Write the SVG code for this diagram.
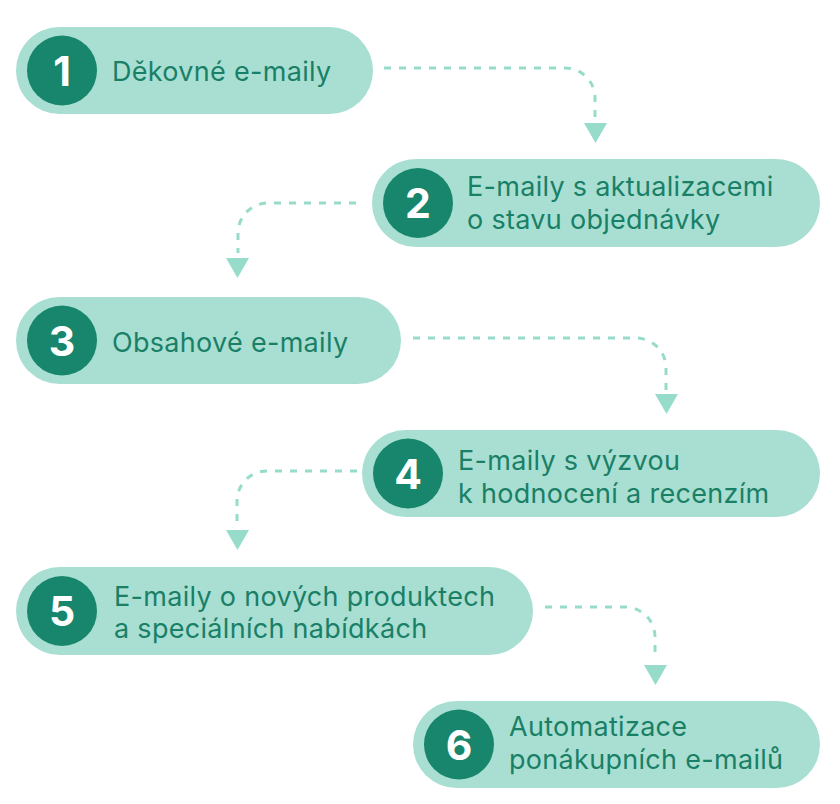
<svg xmlns="http://www.w3.org/2000/svg" width="840" height="804" viewBox="0 0 840 804">
<defs>
<style>
.pill{fill:#a8dfd2}
.num{fill:#17866c}
.digit{fill:#ffffff;font-family:Inter,"Liberation Sans",sans-serif;font-weight:700;font-size:41px;text-anchor:middle}
.lbl{fill:#1a7f67;font-family:Inter,"Liberation Sans",sans-serif;font-size:27px;letter-spacing:0.3px}
.conn{fill:none;stroke:#97dccb;stroke-width:3;stroke-dasharray:7 8}
.head{fill:#97dccb}
</style>
</defs>
<rect width="840" height="804" fill="#ffffff"/>
<g id="connectors">
<path class="conn" d="M384 68 H565 A30 30 0 0 1 595 98 V120"/>
<polygon class="head" points="584,123 607,123 595.5,143"/>
<path class="conn" d="M356 203 H268 A30 30 0 0 0 238 233 V253"/>
<polygon class="head" points="226,258 249,258 237.5,278"/>
<path class="conn" d="M413 338 H636 A30 30 0 0 1 666 368 V390"/>
<polygon class="head" points="655,394 678,394 666.5,414"/>
<path class="conn" d="M357 471 H267 A30 30 0 0 0 237 501 V525"/>
<polygon class="head" points="226,530 249,530 237.5,550"/>
<path class="conn" d="M545 607 H625 A30 30 0 0 1 655 637 V660"/>
<polygon class="head" points="644,665 667,665 655.5,685"/>
</g>
<g id="node1">
<rect class="pill" x="16" y="27" width="357" height="87" rx="43.5"/>
<circle class="num" cx="62" cy="70.5" r="35"/>
<text class="digit" x="62" y="85.5">1</text>
<text class="lbl" x="112" y="81">Děkovné e-maily</text>
</g>
<g id="node2">
<rect class="pill" x="372" y="159" width="448" height="88" rx="44"/>
<circle class="num" cx="418" cy="203" r="35"/>
<text class="digit" x="418" y="218">2</text>
<text class="lbl" x="467" y="196">E-maily s aktualizacemi</text>
<text class="lbl" x="467" y="229">o stavu objednávky</text>
</g>
<g id="node3">
<rect class="pill" x="16" y="297" width="385" height="87" rx="43.5"/>
<circle class="num" cx="62" cy="340.5" r="35"/>
<text class="digit" x="62" y="355.5">3</text>
<text class="lbl" x="112" y="352">Obsahové e-maily</text>
</g>
<g id="node4">
<rect class="pill" x="362" y="430" width="458" height="87" rx="43.5"/>
<circle class="num" cx="408" cy="473.5" r="35"/>
<text class="digit" x="408" y="488.5">4</text>
<text class="lbl" x="458" y="470">E-maily s výzvou</text>
<text class="lbl" x="458" y="503">k hodnocení a recenzím</text>
</g>
<g id="node5">
<rect class="pill" x="16" y="567" width="517" height="88" rx="44"/>
<circle class="num" cx="62" cy="611" r="35"/>
<text class="digit" x="62" y="626">5</text>
<text class="lbl" x="114" y="606">E-maily o nových produktech</text>
<text class="lbl" x="114" y="638">a speciálních nabídkách</text>
</g>
<g id="node6">
<rect class="pill" x="413" y="701" width="407" height="87" rx="43.5"/>
<circle class="num" cx="459" cy="744.5" r="35"/>
<text class="digit" x="459" y="759.5">6</text>
<text class="lbl" x="509" y="736">Automatizace</text>
<text class="lbl" x="509" y="769">ponákupních e-mailů</text>
</g>
</svg>
